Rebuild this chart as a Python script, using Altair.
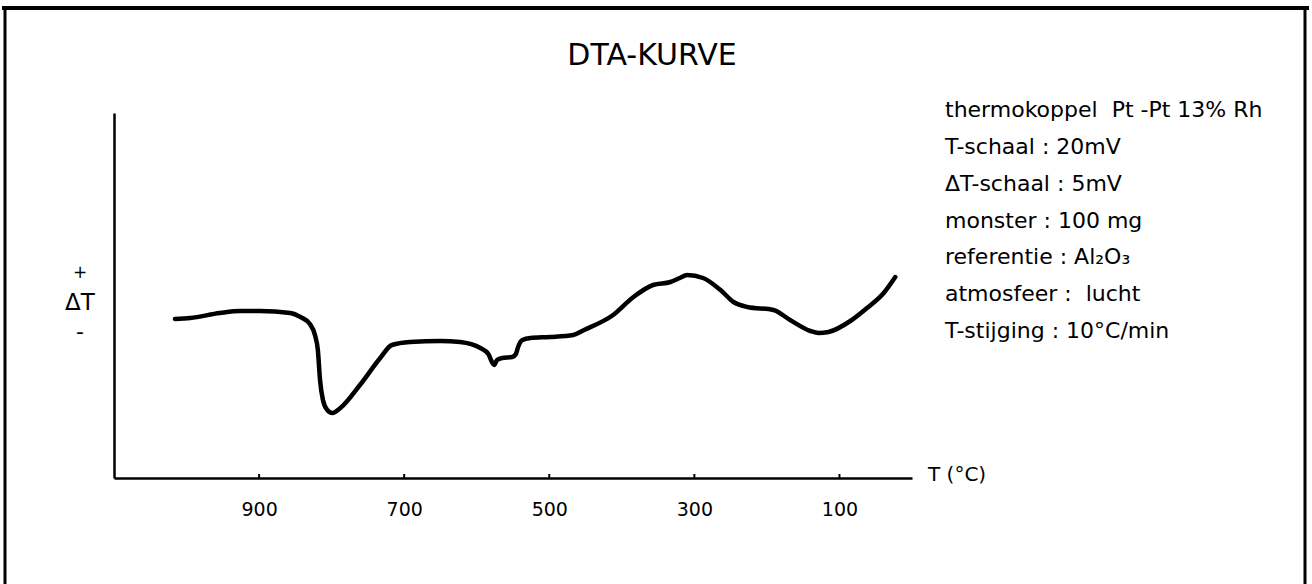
import altair as alt
import pandas as pd

# DTA trace: furnace temperature (°C) and differential signal (arbitrary units)
temp_c = [1016, 995, 954, 926, 899, 857, 843, 830, 823, 819, 816, 812, 806, 799,
          788, 761, 733, 717, 692, 650, 623, 595, 584, 579, 576, 572, 565, 551,
          546, 543, 537, 526, 499, 467, 452, 412, 384, 357, 333, 320, 310, 288,
          264, 246, 227, 191, 168, 140, 129, 115, 85, 62, 39, 23]
delta_t = [-1.6, -1.5, -1.0, -0.8, -0.8, -1.0, -1.4, -2.1, -3.2, -4.7, -7.7, -9.7,
           -10.7, -11.0, -10.5, -8.2, -5.5, -4.2, -3.9, -3.8, -3.9, -4.5, -5.1,
           -5.9, -6.2, -5.7, -5.5, -5.4, -5.1, -4.4, -3.7, -3.5, -3.4, -3.2, -2.7,
           -1.2, 0.6, 1.8, 2.1, 2.5, 2.8, 2.5, 1.3, 0.1, -0.4, -0.7, -1.7, -2.8,
           -3.0, -2.9, -1.8, -0.5, 1.0, 2.6]

tick_values = [900, 700, 500, 300, 100]

title_text = "DTA-KURVE"
info_lines = [
    "thermokoppel\u00a0 Pt -Pt 13% Rh",
    "T-schaal : 20mV",
    "ΔT-schaal : 5mV",
    "monster : 100 mg",
    "referentie : Al₂O₃",
    "atmosfeer :\u00a0 lucht",
    "T-stijging : 10°C/min",
]

FONT = "DejaVu Sans"
W, H = 798, 365

curve = pd.DataFrame({"T": temp_c, "dT": delta_t, "order": range(len(temp_c))})

x_scale = alt.Scale(domain=[1100, 0], nice=False, zero=False)
y_scale = alt.Scale(domain=[-17.5, 19], nice=False, zero=False)

line = alt.Chart(curve).mark_line(
    color="black", strokeWidth=4.5, interpolate="monotone", strokeCap="round"
).encode(
    x=alt.X("T:Q", scale=x_scale,
            axis=alt.Axis(values=tick_values, title=None, grid=False,
                          domainColor="black", domainWidth=2.5,
                          tickSize=0, labelFont=FONT, labelFontSize=19,
                          labelColor="black", labelPadding=22)),
    y=alt.Y("dT:Q", scale=y_scale,
            axis=alt.Axis(title=None, labels=False, ticks=False, grid=False,
                          domainColor="black", domainWidth=2.5)),
    order="order:O",
)

# small tick nubs standing on the temperature axis
nubs = alt.Chart(pd.DataFrame({"T": tick_values})).mark_rule(
    color="black", strokeWidth=2).encode(
    x=alt.X("T:Q", scale=x_scale), y=alt.value(H - 4), y2=alt.value(H))

title = alt.Chart(pd.DataFrame({"t": [title_text]})).mark_text(
    font=FONT, fontSize=30, align="center", baseline="alphabetic", color="black"
).encode(x=alt.value(538), y=alt.value(-48), text="t:N")

# instrument settings, one line per row, 37 px apart
info = pd.DataFrame({"line": info_lines, "row": range(len(info_lines))})
info_text = alt.Chart(info).mark_text(
    font=FONT, fontSize=22, align="left", baseline="alphabetic", color="black"
).encode(
    x=alt.value(831),
    y=alt.Y("row:Q", scale=alt.Scale(domain=[0, 6], range=[4, 225]), axis=None),
    text="line:N",
)

y_label = alt.Chart(pd.DataFrame({"t": ["ΔT", "+", "-"], "yy": [197, 165, 226],
                                  "fs": [23, 17, 22]})).mark_text(
    font=FONT, align="center", baseline="alphabetic", color="black"
).encode(x=alt.value(-34), y=alt.Y("yy:Q", scale=None), text="t:N",
         size=alt.Size("fs:Q", scale=None, legend=None))

x_label = alt.Chart(pd.DataFrame({"t": ["T (°C)"]})).mark_text(
    font=FONT, fontSize=20, align="left", baseline="middle", color="black"
).encode(x=alt.value(814), y=alt.value(362), text="t:N")

# page frame around the figure
frame_top = alt.Chart(pd.DataFrame({"a": [0]})).mark_rule(
    color="black", strokeWidth=4).encode(
    x=alt.value(-112), x2=alt.value(1195), y=alt.value(-105))
frame_left = alt.Chart(pd.DataFrame({"a": [0]})).mark_rule(
    color="black", strokeWidth=3).encode(
    x=alt.value(-109), y=alt.value(-107), y2=alt.value(480))
frame_right = alt.Chart(pd.DataFrame({"a": [0]})).mark_rule(
    color="black", strokeWidth=3).encode(
    x=alt.value(1191), y=alt.value(-107), y2=alt.value(480))

chart = alt.layer(
    frame_top, frame_left, frame_right, line, nubs, title, info_text, y_label, x_label
).resolve_scale(y="independent").properties(
    width=W, height=H,
    autosize=alt.AutoSizeParams(type="none"),
    padding={"left": 114, "top": 113, "right": 1312 - 114 - W, "bottom": 584 - 113 - H},
    background="white",
).configure_view(stroke=None)

chart.save("out.html", embed_options={"renderer": "svg", "actions": False})
